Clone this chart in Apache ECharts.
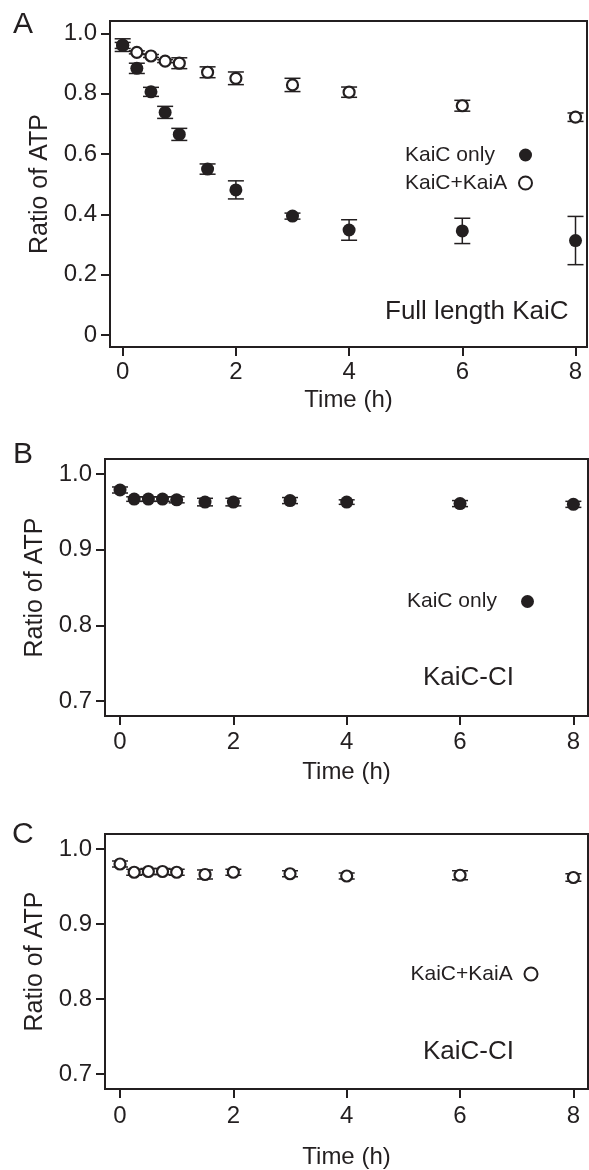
<!DOCTYPE html>
<html><head><meta charset="utf-8">
<script src="https://cdn.jsdelivr.net/npm/echarts@6/dist/echarts.min.js"></script>
<style>html,body{margin:0;padding:0;background:#fff}#c{width:589px;height:1170px}</style>
</head><body><div id="c"></div>
<script>
// ---- data ----
const time = [0, 0.25, 0.5, 0.75, 1, 1.5, 2, 3, 4, 6, 8];
// Panel A: full length KaiC
const aKaiC      = [0.961, 0.884, 0.806, 0.738, 0.665, 0.550, 0.481, 0.394, 0.348, 0.345, 0.313];
const aKaiCErr   = [0.021, 0.017, 0.015, 0.020, 0.020, 0.017, 0.030, 0.010, 0.034, 0.042, 0.080];
const aKaiCA     = [0.960, 0.937, 0.925, 0.908, 0.901, 0.871, 0.851, 0.829, 0.805, 0.760, 0.722];
const aKaiCAErr  = [0.010, 0.005, 0.005, 0.005, 0.018, 0.018, 0.021, 0.022, 0.017, 0.018, 0.014];
// Panel B: KaiC-CI, KaiC only
const bKaiC      = [0.979, 0.967, 0.967, 0.967, 0.966, 0.963, 0.963, 0.965, 0.963, 0.961, 0.960];
const bKaiCErr   = [0.004, 0.003, 0.003, 0.003, 0.004, 0.005, 0.005, 0.004, 0.003, 0.004, 0.004];
// Panel C: KaiC-CI, KaiC+KaiA
const cKaiCA     = [0.980, 0.969, 0.970, 0.970, 0.969, 0.966, 0.969, 0.967, 0.964, 0.965, 0.962];
const cKaiCAErr  = [0.004, 0.004, 0.004, 0.004, 0.004, 0.006, 0.004, 0.004, 0.004, 0.006, 0.005];
// ticks
const xTicks   = [0, 2, 4, 6, 8];
const yTicksA  = [0, 0.2, 0.4, 0.6, 0.8, 1.0];
const yTicksBC = [0.7, 0.8, 0.9, 1.0];

// ---- helpers ----
const INK = '#231f20';
const FONT = 'Liberation Sans, Arial, Helvetica, sans-serif';
const pts = (vals) => time.map((t, i) => [t, vals[i]]);
const errPts = (vals, errs) => time.map((t, i) => [t, vals[i], errs[i]]);

function errRender(params, api) {
  const x = api.value(0), y = api.value(1), e = api.value(2);
  const hi = api.coord([x, y + e]), lo = api.coord([x, y - e]);
  const w = 8;
  const st = { stroke: INK, lineWidth: 1.5 };
  return { type: 'group', children: [
    { type: 'line', shape: { x1: hi[0], y1: hi[1], x2: lo[0], y2: lo[1] }, style: st },
    { type: 'line', shape: { x1: hi[0] - w, y1: hi[1], x2: hi[0] + w, y2: hi[1] }, style: st },
    { type: 'line', shape: { x1: lo[0] - w, y1: lo[1], x2: lo[0] + w, y2: lo[1] }, style: st }
  ]};
}

function xAx(gi, min, max, nameGap, margin) {
  return {
    type: 'value', gridIndex: gi, min: min, max: max,
    name: 'Time (h)', nameLocation: 'middle', nameGap: nameGap,
    nameTextStyle: { fontSize: 24, fontFamily: FONT, color: INK },
    axisLine: { show: false, onZero: false },
    axisTick: { show: true, inside: false, length: 9, customValues: xTicks, lineStyle: { color: INK, width: 2 } },
    axisLabel: { show: true, customValues: xTicks, margin: margin, fontSize: 24, fontFamily: FONT, color: INK },
    splitLine: { show: false }
  };
}
function yAx(gi, min, max, ticks, nameGap) {
  return {
    type: 'value', gridIndex: gi, min: min, max: max,
    name: 'Ratio of ATP', nameLocation: 'middle', nameGap: nameGap,
    nameTextStyle: { fontSize: 25, fontFamily: FONT, color: INK },
    axisLine: { show: false, onZero: false },
    axisTick: { show: true, inside: false, length: 9, customValues: ticks, lineStyle: { color: INK, width: 2 } },
    axisLabel: { show: true, customValues: ticks, margin: 13, fontSize: 24, fontFamily: FONT, color: INK,
      formatter: (v) => (Math.abs(v) < 1e-9 ? '0' : v.toFixed(1)) },
    splitLine: { show: false }
  };
}
function legend(left, top, names) {
  return {
    orient: 'vertical', left: left, top: top, align: 'right', padding: 0,
    itemWidth: 13, itemHeight: 13, itemGap: 7, icon: 'circle',
    selectedMode: false, data: names,
    formatter: '{t|{name}}',
    textStyle: { fontSize: 21, fontFamily: FONT, color: INK,
      rich: { t: { width: 109, align: 'left', fontSize: 21, fontFamily: FONT, color: INK } } }
  };
}
function label(text, left, top, size) {
  return { text: text, left: left, top: top, padding: 0,
    textStyle: { fontSize: size, fontWeight: 'normal', fontFamily: FONT, color: INK } };
}
const gridStyle = { show: true, borderColor: INK, borderWidth: 2, backgroundColor: 'transparent', containLabel: false };
const filled = { color: INK, opacity: 1 };
const open = { color: '#fff', borderColor: INK, borderWidth: 2.2, opacity: 1 };

const option = {
  animation: false,
  backgroundColor: '#fff',
  title: [
    label('A', 13, 10, 30), label('B', 13, 440, 30), label('C', 12, 820, 30),
    label('Full length KaiC', 385, 299, 26),
    label('KaiC-CI', 423, 665, 26),
    label('KaiC-CI', 423, 1039, 26)
  ],
  legend: [
    legend(405, 144.5, ['KaiC only', 'KaiC+KaiA']),
    legend(407, 591, ['KaiC only']),
    legend(410.5, 963.5, ['KaiC+KaiA'])
  ],
  grid: [
    Object.assign({ left: 110, top: 21, width: 477, height: 326 }, gridStyle),
    Object.assign({ left: 105, top: 459, width: 483, height: 257 }, gridStyle),
    Object.assign({ left: 105, top: 834, width: 483, height: 256 }, gridStyle)
  ],
  xAxis: [
    xAx(0, -0.224, 8.203, 41, 13),
    xAx(1, -0.265, 8.258, 44, 14),
    xAx(2, -0.265, 8.258, 56, 15)
  ],
  yAxis: [
    yAx(0, -0.04, 1.041, yTicksA, 55),
    yAx(1, 0.68, 1.02, yTicksBC, 53),
    yAx(2, 0.68, 1.02, yTicksBC, 53)
  ],
  series: [
    { type: 'custom', name: 'errA2', xAxisIndex: 0, yAxisIndex: 0, z: 2, renderItem: errRender, data: errPts(aKaiCA, aKaiCAErr) },
    { type: 'scatter', name: 'KaiC+KaiA', xAxisIndex: 0, yAxisIndex: 0, z: 3, symbol: 'circle', symbolSize: 11, itemStyle: open, data: pts(aKaiCA) },
    { type: 'custom', name: 'errA1', xAxisIndex: 0, yAxisIndex: 0, z: 4, renderItem: errRender, data: errPts(aKaiC, aKaiCErr) },
    { type: 'scatter', name: 'KaiC only', xAxisIndex: 0, yAxisIndex: 0, z: 5, symbol: 'circle', symbolSize: 13, itemStyle: filled, data: pts(aKaiC) },

    { type: 'custom', name: 'errB', xAxisIndex: 1, yAxisIndex: 1, z: 2, renderItem: errRender, data: errPts(bKaiC, bKaiCErr) },
    { type: 'scatter', name: 'KaiC only', xAxisIndex: 1, yAxisIndex: 1, z: 5, symbol: 'circle', symbolSize: 13, itemStyle: filled, data: pts(bKaiC) },

    { type: 'custom', name: 'errC', xAxisIndex: 2, yAxisIndex: 2, z: 2, renderItem: errRender, data: errPts(cKaiCA, cKaiCAErr) },
    { type: 'scatter', name: 'KaiC+KaiA', xAxisIndex: 2, yAxisIndex: 2, z: 3, symbol: 'circle', symbolSize: 11, itemStyle: open, data: pts(cKaiCA) }
  ]
};
const chart = echarts.init(document.getElementById('c'), null, { renderer: 'canvas', width: 589, height: 1170 });
chart.setOption(option);
</script>
</body></html>
